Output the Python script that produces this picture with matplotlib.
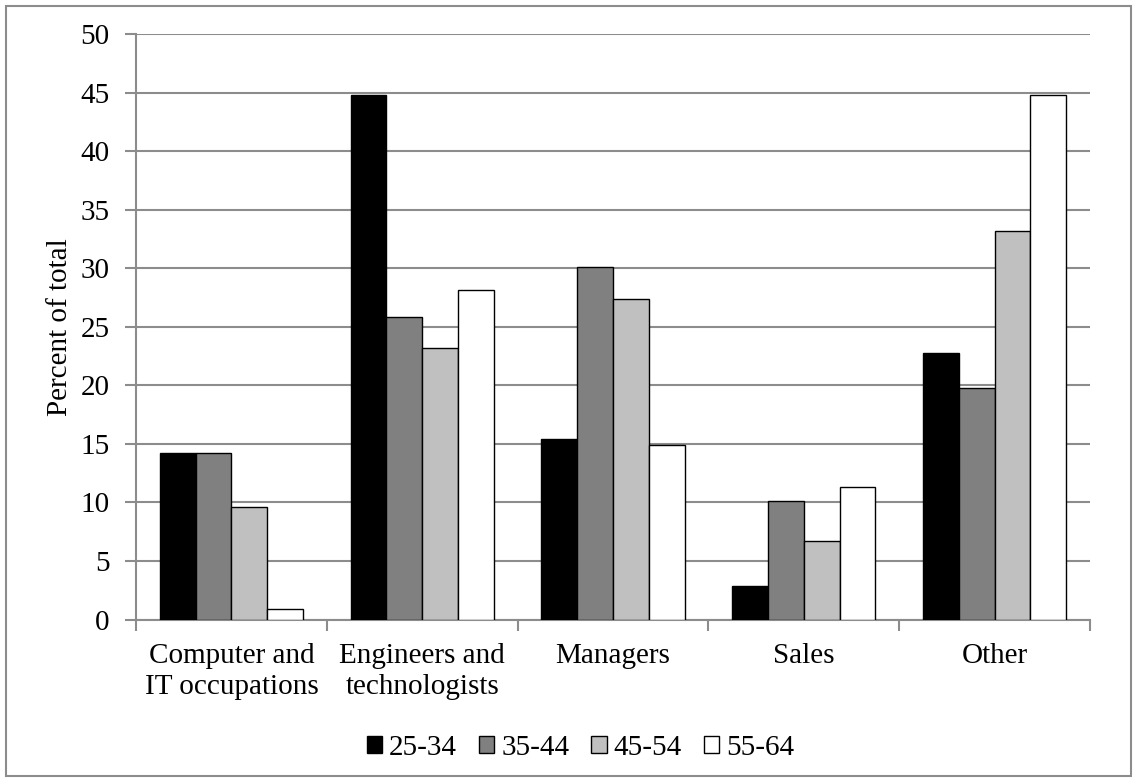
import matplotlib
matplotlib.use("Agg")
import matplotlib.pyplot as plt
from matplotlib.patches import Rectangle
import numpy as np

categories = ["Computer and\nIT occupations", "Engineers and\ntechnologists", "Managers", "Sales", "Other"]
series_names = ["25-34", "35-44", "45-54", "55-64"]
v_25_34 = [14.2, 44.8, 15.4, 2.9, 22.8]
v_35_44 = [14.2, 25.8, 30.1, 10.1, 19.8]
v_45_54 = [9.6, 23.2, 27.4, 6.7, 33.2]
v_55_64 = [0.9, 28.1, 14.9, 11.3, 44.8]
series = [v_25_34, v_35_44, v_45_54, v_55_64]
colors = ["#000000", "#808080", "#c0c0c0", "#ffffff"]

plt.rcParams['font.family'] = ['Liberation Serif', 'DejaVu Serif']
FS = 21

fig = plt.figure(figsize=(11.37, 7.82), dpi=100)
fig.patches.append(Rectangle((6/1137, 6/782), 1125/1137, 770/782, transform=fig.transFigure,
                             fill=False, edgecolor="#8c8c8c", linewidth=1.5))
ax = fig.add_axes([136/1137, 1-619.5/782, (1090-136)/1137, (619.5-34)/782])

x = np.arange(len(categories))
w = 0.1875
for i, (vals, c, name) in enumerate(zip(series, colors, series_names)):
    ax.bar(x + (i - 1.5) * w, vals, width=w, color=c, edgecolor="black", linewidth=1.0,
           label=name, zorder=3)

ax.set_xlim(-0.5, 4.5)
ax.set_ylim(0, 50)
ax.set_yticks(np.arange(0, 51, 5))
ax.yaxis.grid(True, color="#8c8c8c", linewidth=1.5, zorder=0)
ax.set_axisbelow(True)
for s in ["top", "right"]:
    ax.spines[s].set_visible(False)
for s in ["left", "bottom"]:
    ax.spines[s].set_color("#8c8c8c")
    ax.spines[s].set_linewidth(1.5)
ax.tick_params(axis="y", length=8, width=1.5, color="#8c8c8c", labelsize=FS, pad=11)
ax.set_xticks(np.arange(-0.5, 4.6, 1))
ax.set_xticklabels([])
ax.set_xticks(x, minor=True)
ax.set_xticklabels(categories, minor=True, fontsize=FS, linespacing=1.22)
ax.tick_params(axis="x", which="major", length=8, width=1.5, color="#8c8c8c")
ax.tick_params(axis="x", which="minor", length=0, pad=17)
ax.set_ylabel("Percent of total", fontsize=FS, labelpad=5)

leg = ax.legend(loc="center", bbox_to_anchor=(0.466, -0.22), ncol=4, frameon=False,
                fontsize=FS, handlelength=0.52, handleheight=0.52, handletextpad=0.25,
                columnspacing=0.75)
for h in leg.legend_handles:
    h.set_edgecolor("black")
    h.set_linewidth(1.0)

fig.savefig("out.png", dpi=100)
